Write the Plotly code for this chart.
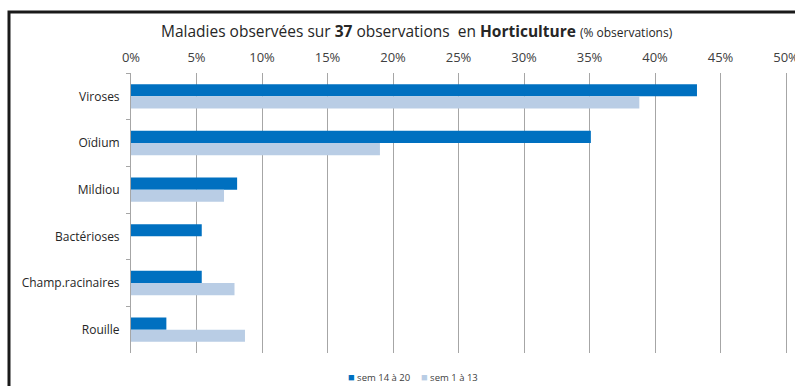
import plotly.graph_objects as go

categories = ["Viroses", "Oïdium", "Mildiou", "Bactérioses", "Champ.racinaires", "Rouille"]
sem_14_20 = [43.2, 35.1, 8.1, 5.4, 5.4, 2.7]
sem_1_13 = [38.8, 19.0, 7.1, 0.0, 7.9, 8.7]
series_names = ["sem 14 à 20", "sem 1 à 13"]
series_colors = ["#0070C0", "#B9CDE5"]
tick_vals = [0, 5, 10, 15, 20, 25, 30, 35, 40, 45, 50]
tick_text = [f"{v}%" for v in tick_vals]

FONT = "Open Sans"

fig = go.Figure()
fig.add_trace(go.Bar(y=categories, x=sem_14_20, name=series_names[0], orientation="h",
                     marker=dict(color=series_colors[0], line=dict(width=0))))
fig.add_trace(go.Bar(y=categories, x=sem_1_13, name=series_names[1], orientation="h",
                     marker=dict(color=series_colors[1], line=dict(width=0))))

L, R, T, B = 131, 5, 73, 33
W, H = 795, 386
XMAX = 50.3
pw = W - L - R
ph = H - T - B

def px_x(p):
    return (p - L) / pw

def px_y(p):
    return (H - B - p) / ph

legend_annots = []
for name, color, x0 in zip(series_names, series_colors, [346, 419]):
    legend_annots.append(dict(
        text=f"<span style='color:{color};font-size:11px'>■</span> {name}",
        x=px_x(x0), y=px_y(376), xref="paper", yref="paper", xanchor="left", yanchor="middle",
        showarrow=False, font=dict(family=FONT, size=9.5, color="#404040")))

fig.update_layout(
    width=W, height=H,
    margin=dict(l=L, r=R, t=T, b=B, autoexpand=False),
    paper_bgcolor="white", plot_bgcolor="white",
    barmode="group", bargap=0.48, bargroupgap=0,
    font=dict(family=FONT, size=12, color="#404040"),
    showlegend=False,
    xaxis=dict(side="top", range=[0, XMAX], tickvals=tick_vals, ticktext=tick_text,
               showgrid=True, gridcolor="#A6A6A6", gridwidth=1, zeroline=False,
               showline=False, ticks="", tickfont=dict(size=13, color="#404040"),
               ticklabelstandoff=7, ticklabeloverflow="allow",
               automargin=False, fixedrange=True),
    yaxis=dict(autorange="reversed", type="category", tickson="boundaries", ticks="outside",
               ticklen=4, tickcolor="#A6A6A6", showline=True, linecolor="#A6A6A6", linewidth=1,
               showgrid=False, tickfont=dict(size=12, color="#262626"), ticklabelstandoff=8,
               automargin=False, fixedrange=True),
    annotations=[dict(
        text="Maladies observées sur <b>37</b> observations  en <b>Horticulture</b> <span style='font-size:12px'>(% observations)</span>",
        x=px_x(417), y=px_y(31), xref="paper", yref="paper", xanchor="center", yanchor="middle",
        showarrow=False, font=dict(family=FONT, size=15.5, color="#262626"))] + legend_annots,
    shapes=[dict(type="rect", xref="paper", yref="paper",
                 x0=px_x(9), x1=px_x(810), y0=px_y(400), y1=px_y(12),
                 line=dict(color="#1a1a1a", width=3), fillcolor="rgba(0,0,0,0)", layer="above")],
)

fig.write_html("out.html", config={"displayModeBar": False},
               post_script="document.body.style.margin='0';document.body.style.overflow='hidden';")
